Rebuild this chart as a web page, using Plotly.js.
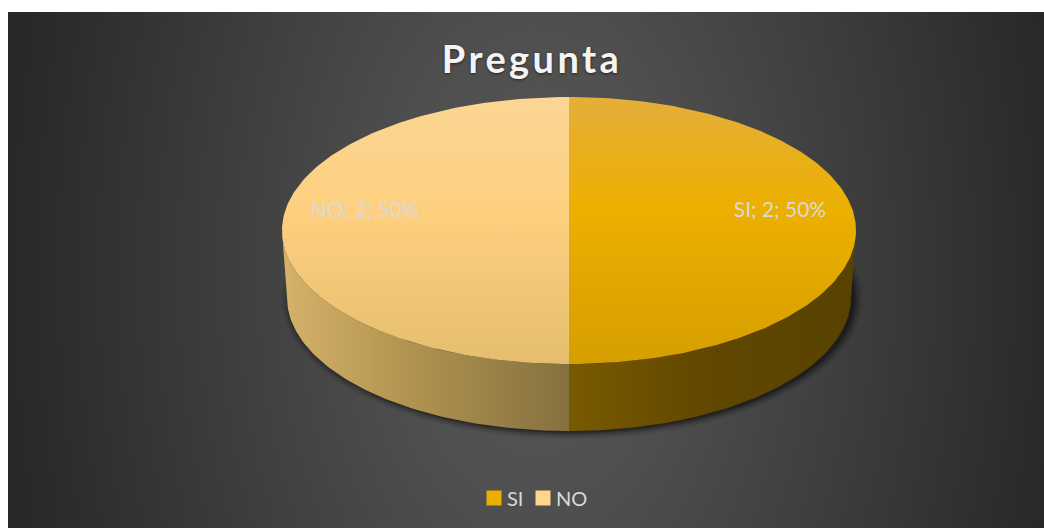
<!DOCTYPE html>
<html><head><meta charset="utf-8">
<script src="https://cdn.plot.ly/plotly-3.0.1.min.js"></script>
<style>
html,body{margin:0;padding:0;background:#fff;width:1044px;height:528px;overflow:hidden}
#bg{position:absolute;left:8px;top:12px;width:1036px;height:516px;background:radial-gradient(ellipse 518px 900px at 528px 258px,#565656 0%,#505050 25%,#434343 50%,#363636 75%,#292929 100%)}
#chart{position:absolute;left:0;top:0;width:1044px;height:528px}
.gtitle{letter-spacing:3.4px}
.legendpoints{transform:translate(7px,0)}
.legend .scrollbox{clip-path:none !important}
</style></head><body>
<div id="bg"></div><div id="chart"></div>
<script>
const categories = ["SI", "NO"];
const values = [2, 2];
const titleText = "Pregunta";
const swatchColors = ["#E9AE00", "#FDD58B"];
const topShades = [["#E4AE3A", "#ECB000", "#D69E00"], ["#FBD694", "#FED080", "#E4BE6E"]];
const sideShades = [["#7A5A00", "#624800", "#574200"], ["#D6B26A", "#B0934F", "#85703F"]];

const W = 1044, H = 528;
const topE = {cx: 569, cy: 230.5, rx: 287, ry: 133.5};
const botE = {cx: 569, cy: 297.5, rx: 282, ry: 133.5};
const total = values.reduce((a, b) => a + b, 0);
const pt = (e, deg) => { const r = deg * Math.PI / 180; return [e.cx + e.rx * Math.sin(r), e.cy - e.ry * Math.cos(r)]; };
const arc = (e, a, b) => { const out = []; const n = Math.max(2, Math.ceil(Math.abs(b - a))); for (let i = 0; i <= n; i++) out.push(pt(e, a + (b - a) * i / n)); return out; };
const scale = (cols, stops) => cols.map((c, i) => [stops[i], c]);
const traces = [];

// soft shadow beneath the disc
[[9, .05], [7, .08], [5, .11], [3, .16], [1, .25]].forEach(([g, al]) => {
  const e = {cx: botE.cx + 3, cy: botE.cy + 1, rx: botE.rx + g, ry: botE.ry + g * .8};
  const p = arc(e, 0, 360);
  traces.push({x: p.map(q => q[0]), y: p.map(q => q[1]), mode: 'lines', line: {width: 0}, fill: 'toself',
    fillcolor: `rgba(0,0,0,${al})`, showlegend: false, hoverinfo: 'skip'});
});

let start = 0;
const sliceRanges = values.map(v => { const a = start, b = start + v / total * 360; start = b; return [a, b]; });

// side walls: only the front half of the disc shows
sliceRanges.forEach(([a, b], i) => {
  const from = Math.max(a, 90), to = Math.min(b, 270);
  if (to <= from) return;
  const p = arc(topE, from, to).concat(arc(botE, to, from));
  const xs = p.map(q => q[0]);
  traces.push({x: xs, y: p.map(q => q[1]), mode: 'lines', line: {width: 0}, fill: 'toself', showlegend: false, hoverinfo: 'skip',
    fillgradient: {type: 'horizontal', start: Math.min(...xs), stop: Math.max(...xs), colorscale: scale(sideShades[i], [0, .45, 1])}});
});

// top faces
sliceRanges.forEach(([a, b], i) => {
  const p = [[topE.cx, topE.cy]].concat(arc(topE, a, b)).concat([[topE.cx, topE.cy]]);
  traces.push({x: p.map(q => q[0]), y: p.map(q => q[1]), mode: 'lines', line: {width: 0}, fill: 'toself', showlegend: false, hoverinfo: 'skip',
    fillgradient: {type: 'vertical', start: topE.cy - topE.ry, stop: topE.cy + topE.ry, colorscale: scale(topShades[i], [0, .42, 1])}});
});

// data labels
const labelSpots = [[780, 212], [365, 212]];
categories.forEach((c, i) => {
  traces.push({x: [labelSpots[i][0]], y: [labelSpots[i][1]], mode: 'text',
    text: [`${c}; ${values[i]}; ${Math.round(values[i] / total * 100)}%`], textposition: 'middle center',
    textfont: {family: 'Lato, Carlito, sans-serif', size: 21, color: '#D9D9D9'}, showlegend: false, hoverinfo: 'skip'});
});

// legend entries
categories.forEach((c, i) => {
  traces.push({x: [-50], y: [-50], name: c, mode: 'markers', marker: {symbol: 'square', size: 15, color: swatchColors[i]}, hoverinfo: 'skip'});
});

Plotly.newPlot('chart', traces, {
  width: W, height: H, autosize: false,
  paper_bgcolor: 'rgba(0,0,0,0)', plot_bgcolor: 'rgba(0,0,0,0)',
  margin: {l: 0, r: 0, t: 0, b: 0},
  xaxis: {range: [0, W], visible: false, fixedrange: true},
  yaxis: {range: [H, 0], visible: false, fixedrange: true},
  title: {text: '<b>' + titleText + '</b>', x: 532 / W, xanchor: 'center', y: 1 - 60 / H, yanchor: 'middle',
    font: {family: 'Lato, Carlito, sans-serif', size: 38, color: '#F4F4F4', shadow: '0px 1px 3px rgba(0,0,0,0.55)'}},
  showlegend: true,
  legend: {orientation: 'h', x: 467 / W, xanchor: 'left', y: 1 - 498 / H, yanchor: 'middle',
    bgcolor: 'rgba(0,0,0,0)', font: {family: 'Lato, Carlito, sans-serif', size: 20, color: '#D9D9D9'},
    itemwidth: 30, traceorder: 'normal', entrywidth: 4, entrywidthmode: 'pixels'}
}, {displayModeBar: false, staticPlot: true});
</script>
</body></html>
